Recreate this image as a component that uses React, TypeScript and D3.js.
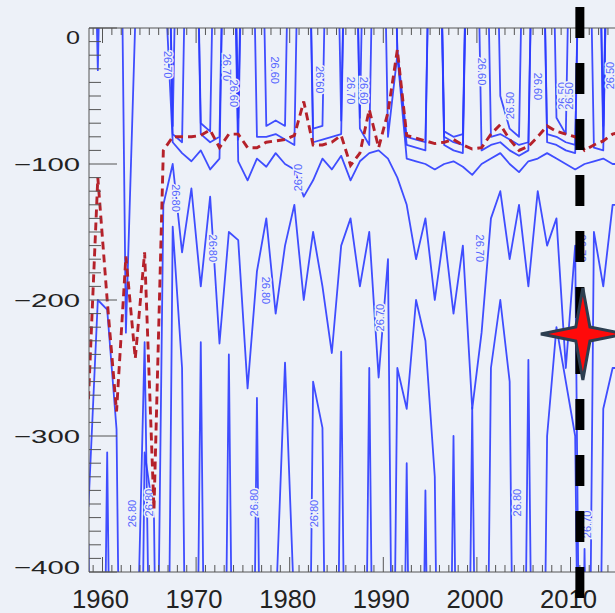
import React from "react";
import * as d3 from "d3";

const W = 615;
const H = 613;

// annual columns (mid-year)
const years = [
  1958.5, 1959.5, 1960.5, 1961.5, 1962.5, 1963.5, 1964.5, 1965.5, 1966.5, 1967.5,
  1968.5, 1969.5, 1970.5, 1971.5, 1972.5, 1973.5, 1974.5, 1975.5, 1976.5, 1977.5,
  1978.5, 1979.5, 1980.5, 1981.5, 1982.5, 1983.5, 1984.5, 1985.5, 1986.5, 1987.5,
  1988.5, 1989.5, 1990.5, 1991.5, 1992.5, 1993.5, 1994.5, 1995.5, 1996.5, 1997.5,
  1998.5, 1999.5, 2000.5, 2001.5, 2002.5, 2003.5, 2004.5, 2005.5, 2006.5, 2007.5,
  2008.5, 2009.5, 2010.5, 2011.5, 2012.5, 2013.5, 2014.5, 2015.5,
];

// mixed layer depth (m)
const mld = [
  -273, -110, -200, -282, -168, -243, -165, -354, -90, -80,
  -80, -80, -79, -75, -88, -78, -78, -88, -88, -84,
  -83, -82, -79, -54, -86, -86, -84, -79, -101, -92,
  -60, -88, -62, -16, -79, -81, -83, -85, -84, -82,
  -86, -89, -88, -78, -71, -82, -90, -87, -80, -72,
  -76, -78, -80, -90, -86, -83, -78, -76,
];

// isopycnal depths (m); positive = outcropped above surface, below -400 = beneath plot
const iso2650 = [
  300, 300, 300, 300, 300, 300, 300, 300, 300, 300,
  300, 300, 300, 300, 300, 300, 300, 300, 300, 300,
  300, 300, 300, 300, 300, 300, 300, 300, 300, 300,
  300, 300, 300, 300, 300, 300, 300, 300, -76, -80,
  -78, 300, 300, 300, -50, -74, -80, 300, 300, 300,
  -66, -78, 300, 300, 300, -72, 300, 300,
];
const iso2655 = [
  300, 300, 300, 300, 300, 300, 300, 300, 300, 300,
  300, 300, 300, 300, 300, 300, 300, 300, 300, 300,
  300, 300, 300, 300, 300, 300, 300, 300, 300, 300,
  300, 300, 300, -16, -80, -82, -84, 300, -80, -84,
  -86, 300, 300, -80, -78, -82, -86, -84, 300, -78,
  -80, -84, -86, 300, 300, -84, 300, 300,
];
const iso2660 = [
  300, 300, 300, 300, 300, 300, 300, 300, 300, -72,
  300, 300, -70, -76, 300, 300, -66, 300, 300, -72,
  -68, -72, 300, 300, -74, -72, 300, -68, 300, -66,
  300, 300, 300, -18, -86, -88, -90, 300, -86, -90,
  -92, 300, -90, -86, -84, -90, -94, -90, 300, -84,
  -86, -90, -92, 300, -88, -90, 300, 300,
];
const iso2665 = [
  300, 300, 300, 300, 300, 300, 300, 300, 300, -78,
  -84, 300, -78, -84, -80, 300, -82, 300, -80, -80,
  -78, -82, -86, 300, -84, -82, -80, -78, 300, -74,
  -86, 300, -80, -20, -96, -98, -100, -104, -100, -98,
  -102, -108, -100, -96, -92, -100, -106, -98, -96, -92,
  -96, -100, -104, -100, -98, -96, -100, -100,
];
const iso2670 = [
  300, -31, 300, 400, -224, 5, 300, 300, 60, -84,
  -92, -98, -90, -104, -96, 300, -98, -112, -96, -102,
  -92, -100, -104, -124, -112, -96, -104, -94, -112, -98,
  -92, -90, -96, -110, -130, -170, -140, -200, -150, -210,
  -160, -280, -224, -140, -120, -170, -130, -190, -120, -160,
  -140, -250, -160, -900, -150, -190, -130, -130,
];
const iso2675 = [
  -379, -900, -312, -900, -900, -900, -312, -360, -900, -146,
  -250, -900, -231, -900, -900, -240, -900, -900, -272, -900,
  -430, -246, -430, -900, -260, -294, -900, -238, -900, -900,
  -250, -900, -900, -250, -280, -200, -230, -330, -900, -300,
  -900, -279, -900, -250, -200, -260, -900, -244, -900, -300,
  -220, -260, -300, -900, -900, -280, -250, -250,
];
const iso2680 = [
  -352, -200, -207, -295, -900, -520, -231, -700, -130, -100,
  -165, -118, -190, -124, -232, -150, -156, -265, -179, -140,
  -210, -160, -130, -200, -150, -190, -239, -160, -140, -190,
  -150, -257, -170, -900, -320, -900, -340, -900, -900, -900,
  -900, -900, -900, -900, -900, -900, -900, -900, -900, -900,
  -900, -900, -900, -383, -900, -900, -900, -900,
];

const isoSeries = [iso2650, iso2655, iso2660, iso2665, iso2670, iso2675, iso2680];

// contour labels: text, year, depth, rotation
const contourLabels: [string, number, number, number][] = [
  ["26.70", 1967.0, -27, 90],
  ["26.80", 1967.8, -125, 90],
  ["26.70", 1973.3, -29, 90],
  ["26.60", 1974.0, -48, 90],
  ["26.80", 1971.8, -162, 90],
  ["26.80", 1977.5, -193, 90],
  ["26.60", 1978.4, -31, 90],
  ["26.70", 1980.9, -110, -90],
  ["26.60", 1983.2, -38, 90],
  ["26.70", 1986.5, -46, 90],
  ["26.60", 1987.9, -46, 90],
  ["26.70", 1989.6, -213, -90],
  ["26.70", 2000.3, -162, 90],
  ["26.60", 2000.5, -32, 90],
  ["26.50", 2003.5, -57, -90],
  ["26.60", 2006.5, -43, 90],
  ["26.50", 2009.1, -50, -90],
  ["26.50", 2009.8, -50, -90],
  ["26.70", 2011.2, -162, 90],
  ["26.50", 2014.2, -35, -90],
  ["26.70", 2011.8, -365, -90],
  ["26.80", 1963.2, -357, -90],
  ["26.80", 1965.0, -349, -90],
  ["26.80", 1976.2, -349, -90],
  ["26.80", 1982.6, -357, -90],
  ["26.80", 2004.3, -349, -90],
];

const xMajor = [1960, 1970, 1980, 1990, 2000, 2010];
const yMajor = [0, -100, -200, -300, -400];
const markerYear = 2011.0;
const markerDepth = -225;

const BG = "#edf1f8";

export default function App() {
  const x = d3.scaleLinear().domain([1960, 2010]).range([102.5, 570.5]);
  const y = d3.scaleLinear().domain([0, -400]).range([28, 572]);
  const left = 89;
  const right = 640;
  const top = y(0);
  const bottom = y(-400);

  const line = d3
    .line<number>()
    .x((_, i) => x(years[i]))
    .y((d) => y(d));

  const minorYears = d3.range(1959, 2016);
  const minorDepths = d3.range(0, -401, -10);

  const starPts: [number, number][] = [];
  const cx = x(markerYear) + 3;
  const cy = y(markerDepth);
  const outerX = 42;
  const outerY = 46;
  const inner = 10;
  for (let k = 0; k < 8; k++) {
    const a = (Math.PI / 4) * k - Math.PI / 2;
    const isOuter = k % 2 === 0;
    const rx = isOuter ? outerX : inner;
    const ry = isOuter ? outerY : inner;
    starPts.push([cx + rx * Math.cos(a), cy + ry * Math.sin(a)]);
  }

  return (
    <svg
      width={W}
      height={H}
      style={{ position: "absolute", left: 0, top: 0, background: BG }}
    >
      <rect x={0} y={0} width={W} height={H} fill={BG} />
      <defs>
        <clipPath id="plotClip">
          <rect x={left} y={top} width={right - left} height={bottom - top} />
        </clipPath>
      </defs>

      {/* contours */}
      <g clipPath="url(#plotClip)">
        {isoSeries.map((s, i) => (
          <path
            key={i}
            d={line(s) || ""}
            fill="none"
            stroke="#2b3bff"
            strokeOpacity={0.9}
            strokeWidth={1.8}
            strokeLinejoin="round"
          />
        ))}
        {contourLabels.map(([t, yr, dp, rot], i) => (
          <text
            key={i}
            x={0}
            y={0}
            transform={`translate(${x(yr)},${y(dp)}) rotate(${rot})`}
            textAnchor="middle"
            dominantBaseline="central"
            fontFamily="Liberation Sans, Arial, sans-serif"
            fontSize={11}
            fill="#5566ff"
            stroke={BG}
            strokeWidth={3}
            paintOrder="stroke"
          >
            {t}
          </text>
        ))}
        <path
          d={line(mld) || ""}
          fill="none"
          stroke="#b5212a"
          strokeWidth={2.9}
          strokeDasharray="8 5"
        />
      </g>

      {/* axes */}
      <g stroke="#555" strokeWidth={1}>
        <line x1={left} x2={W} y1={top} y2={top} />
        <line x1={left} x2={W} y1={bottom} y2={bottom} />
        <line x1={left} x2={left} y1={top} y2={bottom} />
        {minorYears.map((yr) => {
          const major = yr % 10 === 0;
          const len = major ? 15 : 7;
          return (
            <g key={yr}>
              <line x1={x(yr)} x2={x(yr)} y1={top} y2={top + len} />
              <line x1={x(yr)} x2={x(yr)} y1={bottom} y2={bottom - len} />
            </g>
          );
        })}
        {minorDepths.map((dp) => {
          const major = dp % 100 === 0;
          const len = major ? 28 : 12;
          return <line key={dp} x1={left} x2={left + len} y1={y(dp)} y2={y(dp)} />;
        })}
      </g>

      {/* tick labels */}
      {yMajor.map((dp) => {
        const txt = dp === 0 ? "0" : "\u2212" + Math.abs(dp);
        let yy = y(dp) + 7;
        if (dp === 0) yy = y(dp) + 16;
        if (dp === -400) yy = y(dp) + 2;
        return (
          <text
            key={dp}
            x={80}
            y={yy}
            textAnchor="end"
            fontFamily="Liberation Sans, Arial, sans-serif"
            fontSize={19}
            fill="#222"
            textLength={dp === 0 ? 14 : 66}
            lengthAdjust="spacingAndGlyphs"
          >
            {txt}
          </text>
        );
      })}
      {xMajor.map((yr) => (
        <text
          key={yr}
          x={x(yr) - 2}
          y={608}
          textAnchor="middle"
          fontFamily="Liberation Sans, Arial, sans-serif"
          fontSize={25}
          fill="#222"
          textLength={57}
          lengthAdjust="spacingAndGlyphs"
        >
          {yr}
        </text>
      ))}

      {/* vertical marker */}
      <line
        x1={x(markerYear)}
        x2={x(markerYear)}
        y1={7}
        y2={H}
        stroke="#000"
        strokeWidth={9}
        strokeDasharray="31 25"
      />
      <polygon
        points={starPts.map((p) => p.join(",")).join(" ")}
        fill="#ff0a0a"
        stroke="#2c3e50"
        strokeWidth={3}
        strokeLinejoin="miter"
      />
    </svg>
  );
}
